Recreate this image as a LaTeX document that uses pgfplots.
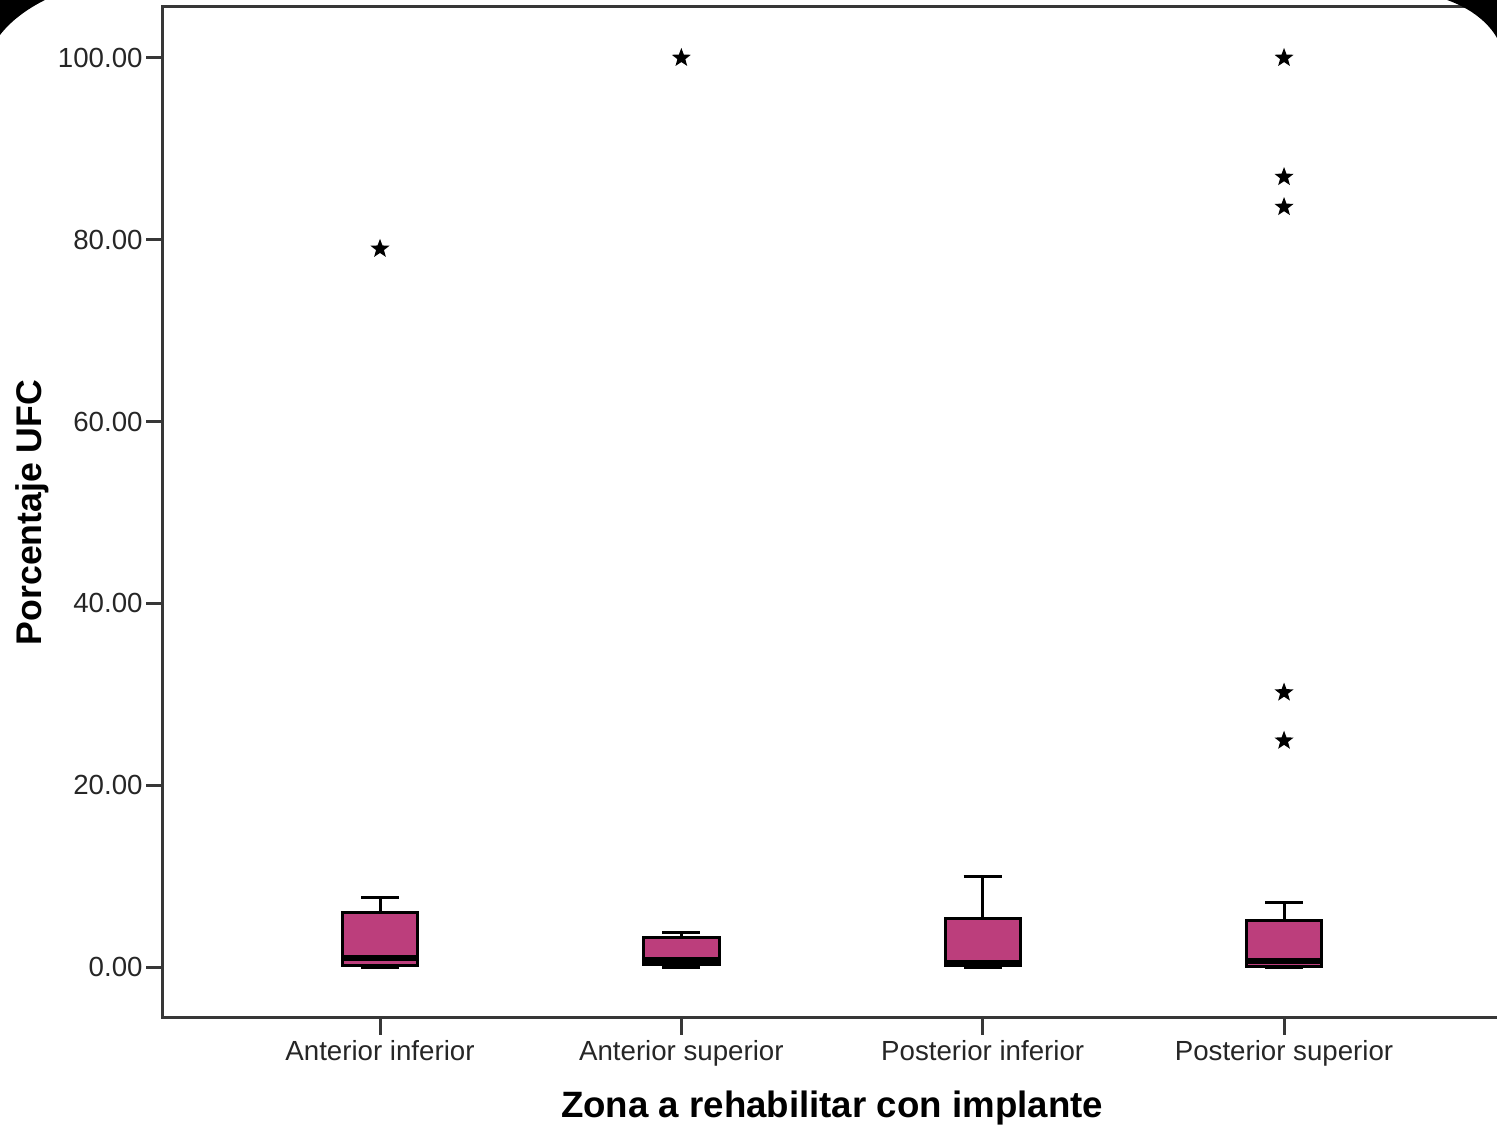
\documentclass[border=0pt]{standalone}
\usepackage{pgfplots}
\pgfplotsset{compat=1.18}
\usepgfplotslibrary{statistics}
\usepackage{fontspec}
\setmainfont{Liberation Sans}
\definecolor{boxmag}{RGB}{188,62,124}
\definecolor{axgray}{RGB}{55,55,55}
\pgfdeclareplotmark{fstar}{%
  \pgfpathmoveto{\pgfpointpolar{90}{3pt}}%
  \pgfpathlineto{\pgfpointpolar{126}{1.25pt}}%
  \pgfpathlineto{\pgfpointpolar{162}{3pt}}%
  \pgfpathlineto{\pgfpointpolar{198}{1.25pt}}%
  \pgfpathlineto{\pgfpointpolar{234}{3pt}}%
  \pgfpathlineto{\pgfpointpolar{270}{1.25pt}}%
  \pgfpathlineto{\pgfpointpolar{306}{3pt}}%
  \pgfpathlineto{\pgfpointpolar{342}{1.25pt}}%
  \pgfpathlineto{\pgfpointpolar{18}{3pt}}%
  \pgfpathlineto{\pgfpointpolar{54}{1.25pt}}%
  \pgfpathclose
  \pgfusepathqfill
}
\begin{document}
\begin{tikzpicture}
\path[use as bounding box] (-48.9pt,-33.6pt) rectangle (400.2pt,305.4pt);
\begin{axis}[
  at={(0pt,0pt)}, anchor=south west,
  scale only axis,
  width=401.4pt, height=303.3pt,
  xmin=0.2799, xmax=4.720,
  ymin=-5.6, ymax=105.6,
  axis line style={draw=axgray, line width=0.9pt},
  xtick={1,2,3,4},
  xticklabels={Anterior inferior, Anterior superior, Posterior inferior, Posterior superior},
  ytick={0,20,40,60,80,100},
  xtick pos=bottom, ytick pos=left,
  tick align=outside,
  major tick length=5pt,
  tick style={draw=axgray, line width=0.9pt},
  /pgf/number format/.cd, fixed, fixed zerofill, precision=2, assume math mode=true,
  /pgfplots/.cd,
  tick label style={font=\fontsize{8.3}{10}\selectfont, text=black!85},
  yticklabel style={xshift=2.4pt},
  xticklabel style={yshift=1.8pt},
  xlabel={Zona a rehabilitar con implante},
  ylabel={Porcentaje UFC},
  xlabel style={font=\fontsize{11}{13}\selectfont\bfseries, at={(axis description cs:0.5,-0.089)}, anchor=center},
  ylabel style={font=\fontsize{10.7}{13}\selectfont\bfseries, at={(axis description cs:-0.0979,0.5)}, rotate=0, anchor=center},
  boxplot/draw direction=y,
  boxplot/box extend=0.25,
  boxplot/whisker extend=0.126,
  boxplot/every box/.style={draw=black, fill=boxmag, line width=0.9pt},
  boxplot/every whisker/.style={draw=black, line width=0.9pt},
  boxplot/every median/.style={draw=black, line width=1.8pt},
]
\addplot[draw=black, mark=fstar, mark options={fill=black}, boxplot prepared={lower whisker=0, lower quartile=0.2, median=1.0, upper quartile=6.0, upper whisker=7.7, draw position=1}] coordinates {(0,79.0)};
\addplot[draw=black, mark=fstar, mark options={fill=black}, boxplot prepared={lower whisker=0, lower quartile=0.3, median=0.8, upper quartile=3.3, upper whisker=3.8, draw position=2}] coordinates {(0,100.0)};
\addplot[draw=black, mark=fstar, mark options={fill=black}, boxplot prepared={lower whisker=0, lower quartile=0.15, median=0.4, upper quartile=5.3, upper whisker=10.0, draw position=3}] table[row sep=\\,y index=0] {\\};
\addplot[draw=black, mark=fstar, mark options={fill=black}, boxplot prepared={lower whisker=0, lower quartile=0.1, median=0.7, upper quartile=5.1, upper whisker=7.1, draw position=4}] coordinates {(0,100.0) (0,86.9) (0,83.6) (0,30.2) (0,24.9)};
\end{axis}
\fill[black] (-48.9pt,305.4pt) -- (-35.4pt,305.4pt) .. controls (-41.4pt,302.4pt) and (-45.9pt,298.8pt) .. (-48.9pt,294.9pt) -- cycle;
\fill[black] (385.2pt,305.4pt) -- (400.2pt,305.4pt) -- (400.2pt,294.0pt) .. controls (397.5pt,298.8pt) and (392.1pt,303.0pt) .. (385.2pt,305.4pt) -- cycle;
\end{tikzpicture}
\end{document}
